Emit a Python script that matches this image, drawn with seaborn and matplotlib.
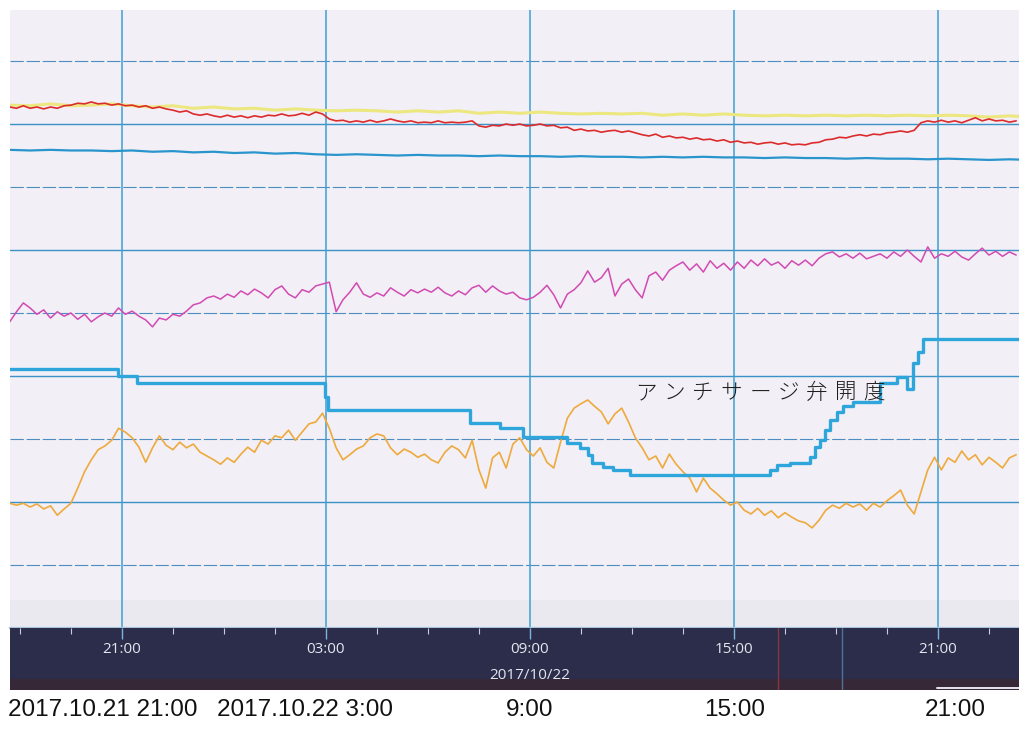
import numpy as np
import pandas as pd
import matplotlib
matplotlib.use("Agg")
import matplotlib.pyplot as plt
import matplotlib.transforms as mtransforms
from matplotlib import font_manager as fm
import seaborn as sns

sns.set_style("white")
plt.rcParams["font.family"] = ["Noto Sans CJK JP", "DejaVu Sans"]

# ---------------------------------------------------------------- data
# fine trend samples, one every 12 minutes (0-100 % of recorder span)
fine_times = pd.date_range("2017-10-21 17:42", periods=149, freq="12min")

red_pen = [
    82.7, 82.5, 82.9, 82.5, 82.7, 82.4, 82.7, 82.5, 82.9, 83.0,
    83.3, 83.2, 83.5, 83.2, 83.3, 83.0, 83.2, 82.9, 83.0, 82.7,
    82.9, 82.5, 82.7, 82.4, 82.2, 81.9, 82.1, 81.6, 81.4, 81.6,
    81.3, 81.1, 81.4, 81.1, 81.3, 81.0, 81.3, 81.1, 81.4, 81.3,
    81.6, 81.3, 81.4, 81.7, 81.4, 81.9, 81.6, 80.8, 80.5, 80.6,
    80.3, 80.5, 80.3, 80.6, 80.3, 80.5, 80.8, 80.5, 80.3, 80.5,
    80.2, 80.3, 80.2, 80.5, 80.2, 80.3, 80.2, 80.3, 80.5, 79.7,
    79.5, 79.8, 79.7, 80.0, 79.8, 80.0, 79.7, 79.8, 80.0, 79.7,
    79.8, 79.4, 79.5, 79.0, 79.2, 78.9, 79.0, 78.7, 78.9, 79.0,
    78.7, 78.9, 78.6, 78.3, 78.1, 78.4, 77.9, 78.1, 77.8, 77.9,
    77.6, 77.8, 77.5, 77.6, 77.3, 77.5, 77.1, 77.3, 77.0, 77.1,
    76.8, 77.0, 77.1, 76.8, 77.0, 76.7, 76.8, 76.7, 77.0, 77.1,
    77.5, 77.6, 77.9, 77.8, 78.1, 78.3, 78.1, 78.4, 78.3, 78.6,
    78.7, 78.9, 78.7, 79.0, 80.2, 80.5, 80.3, 80.6, 80.3, 80.5,
    80.2, 80.6, 81.0, 80.5, 80.8, 80.5, 80.6, 80.3, 80.5,
]

magenta_pen = [
    48.6, 50.2, 51.6, 50.8, 49.8, 50.5, 49.2, 50.2, 49.5, 50.0,
    49.0, 49.8, 48.6, 49.4, 50.0, 49.5, 50.8, 49.8, 50.3, 49.5,
    48.9, 47.8, 49.2, 48.9, 49.8, 49.5, 50.3, 51.3, 51.6, 52.4,
    52.7, 52.2, 53.0, 52.5, 53.5, 52.9, 53.8, 53.2, 52.4, 53.7,
    54.3, 53.0, 52.4, 53.7, 53.3, 54.3, 54.6, 54.9, 50.2, 52.1,
    53.3, 54.8, 53.0, 52.5, 53.2, 52.7, 54.0, 53.3, 52.7, 53.7,
    53.2, 53.8, 53.3, 54.1, 53.2, 52.7, 53.5, 52.9, 54.0, 54.4,
    53.3, 54.3, 53.5, 53.0, 53.3, 52.4, 52.1, 52.5, 53.3, 54.4,
    52.9, 50.8, 53.0, 53.7, 54.8, 56.7, 54.9, 55.6, 57.1, 52.7,
    54.6, 55.4, 53.7, 52.4, 55.9, 56.5, 55.2, 56.8, 57.5, 58.1,
    56.8, 57.8, 56.5, 58.3, 57.1, 57.9, 56.8, 58.1, 57.1, 58.4,
    57.5, 58.6, 57.6, 58.1, 57.1, 58.3, 57.6, 58.4, 57.5, 58.7,
    59.4, 59.7, 58.9, 59.4, 58.7, 59.5, 58.6, 59.0, 59.4, 58.7,
    59.7, 59.0, 60.0, 59.0, 58.1, 60.5, 58.7, 59.4, 59.0, 59.8,
    58.9, 58.4, 59.4, 60.3, 59.2, 59.8, 59.0, 59.7, 59.2,
]

orange_pen = [
    19.8, 19.5, 19.8, 19.2, 19.7, 18.9, 19.4, 17.9, 18.9, 19.8,
    22.2, 24.8, 26.7, 28.3, 28.9, 29.8, 31.7, 31.1, 30.2, 28.7,
    26.3, 28.6, 30.5, 29.0, 28.3, 29.5, 28.6, 29.2, 27.9, 27.3,
    26.7, 26.0, 27.0, 26.3, 27.6, 28.7, 27.9, 29.8, 29.2, 30.5,
    30.2, 31.4, 29.8, 31.1, 32.4, 32.7, 34.1, 31.7, 28.6, 26.7,
    27.5, 28.4, 28.9, 30.2, 30.8, 30.5, 28.6, 27.5, 28.4, 27.9,
    27.1, 27.6, 26.7, 26.2, 27.9, 28.9, 28.3, 27.0, 29.8, 25.1,
    22.2, 27.0, 27.9, 25.4, 29.2, 30.2, 28.3, 27.3, 28.6, 26.3,
    25.4, 29.5, 33.3, 34.9, 35.6, 36.2, 35.2, 34.3, 32.4, 34.0,
    34.9, 32.7, 30.2, 28.6, 26.7, 27.3, 25.4, 27.6, 26.0, 24.8,
    23.8, 21.6, 23.8, 22.2, 21.3, 20.3, 19.5, 20.0, 18.7, 18.1,
    19.0, 17.9, 18.6, 17.5, 18.3, 17.6, 17.0, 16.7, 15.9, 17.1,
    18.7, 19.5, 19.0, 19.8, 19.2, 19.7, 18.7, 19.8, 19.2, 20.2,
    21.0, 21.9, 19.5, 18.1, 21.6, 25.1, 27.1, 25.1, 27.0, 26.3,
    28.1, 26.7, 27.5, 25.9, 27.1, 26.3, 25.4, 27.0, 27.5,
]

# slow pens, one sample every 36 minutes
coarse_times = pd.date_range("2017-10-21 17:42", periods=51, freq="36min")

yellow_pen = [
    83.0, 82.9, 83.2, 82.9, 83.0, 83.2, 82.9, 82.7, 82.9, 82.5,
    82.7, 82.4, 82.5, 82.2, 82.4, 82.2, 82.1, 82.2, 82.1, 81.9,
    82.1, 81.9, 82.1, 81.7, 81.9, 81.7, 81.9, 81.7, 81.6, 81.7,
    81.6, 81.7, 81.4, 81.6, 81.4, 81.6, 81.4, 81.3, 81.4, 81.3,
    81.4, 81.3, 81.4, 81.3, 81.4, 81.3, 81.4, 81.3, 81.1, 81.3,
    81.1,
]

blue_pen = [
    75.9, 75.8, 75.9, 75.8, 75.8, 75.7, 75.8, 75.6, 75.7, 75.5,
    75.6, 75.4, 75.5, 75.3, 75.4, 75.2, 75.1, 75.2, 75.1, 75.0,
    75.1, 75.0, 75.0, 74.9, 75.0, 74.9, 74.9, 74.8, 74.9, 74.8,
    74.8, 74.7, 74.8, 74.7, 74.8, 74.7, 74.7, 74.6, 74.7, 74.6,
    74.6, 74.5, 74.6, 74.5, 74.5, 74.4, 74.5, 74.4, 74.3, 74.4,
    74.3,
]

# anti-surge valve opening: each value holds until the next change
valve_times = [
    "2017-10-21 17:40", "2017-10-21 20:53", "2017-10-21 21:26",
    "2017-10-22 02:58", "2017-10-22 03:04", "2017-10-22 07:14",
    "2017-10-22 08:07", "2017-10-22 08:47", "2017-10-22 10:05",
    "2017-10-22 10:28", "2017-10-22 10:43", "2017-10-22 10:49",
    "2017-10-22 11:09", "2017-10-22 11:26", "2017-10-22 11:56",
    "2017-10-22 16:04", "2017-10-22 16:16", "2017-10-22 16:39",
    "2017-10-22 17:14", "2017-10-22 17:23", "2017-10-22 17:32",
    "2017-10-22 17:41", "2017-10-22 17:49", "2017-10-22 18:02",
    "2017-10-22 18:13", "2017-10-22 18:30", "2017-10-22 19:17",
    "2017-10-22 19:47", "2017-10-22 20:05", "2017-10-22 20:16",
    "2017-10-22 20:25", "2017-10-22 20:34", "2017-10-22 23:30",
]
valve_opening = [
    41.1, 40.0, 38.9, 36.7, 34.6, 32.5, 31.7, 30.3, 29.4, 28.6,
    27.5, 26.2, 25.6, 25.1, 24.3, 25.1, 25.9, 26.2, 27.1, 28.7,
    29.8, 31.4, 33.0, 34.3, 35.2, 35.9, 38.9, 39.8, 37.9, 42.1,
    43.8, 45.9, 45.9,
]
valve_label = "アンチサージ弁開度"

# time axis
view_start = "2017-10-21 17:42:30"
view_end = "2017-10-22 23:23"
tick_times = ["2017-10-21 21:00", "2017-10-22 03:00", "2017-10-22 09:00",
              "2017-10-22 15:00", "2017-10-22 21:00"]
tick_labels = ["21:00", "03:00", "09:00", "15:00", "21:00"]
date_label = "2017/10/22"
date_label_time = "2017-10-22 09:00"
cursor_times = ["2017-10-22 16:17", "2017-10-22 18:11"]
caption_labels = ["2017.10.21 21:00", "2017.10.22 3:00", "9:00", "15:00", "21:00"]

# ---------------------------------------------------------------- figure
W, H = 1019, 733
fig = plt.figure(figsize=(W / 100, H / 100), dpi=100)
fig.patch.set_facecolor("white")

ax = fig.add_axes([10 / W, 105 / H, 1009 / W, 618 / H])
band = fig.add_axes([10 / W, 43 / H, 1009 / W, 62 / H], sharex=ax)

t0 = pd.Timestamp(view_start).to_pydatetime()
t1 = pd.Timestamp(view_end).to_pydatetime()

ax.set_facecolor("#f2eff6")
ax.axhspan(0, 4.4, color="#ebe9f0", zorder=0, lw=0)

fine = pd.DataFrame({"time": fine_times, "red": red_pen,
                     "magenta": magenta_pen, "orange": orange_pen})
coarse = pd.DataFrame({"time": coarse_times, "yellow": yellow_pen,
                       "blue": blue_pen})
valve = pd.DataFrame({"time": pd.to_datetime(valve_times),
                      "opening": valve_opening})

sns.lineplot(data=coarse, x="time", y="yellow", ax=ax, color="#ece77e",
             lw=2.2, errorbar=None, zorder=3)
sns.lineplot(data=fine, x="time", y="red", ax=ax, color="#dc2b2b",
             lw=1.2, errorbar=None, zorder=4)
sns.lineplot(data=coarse, x="time", y="blue", ax=ax, color="#2a95cc",
             lw=1.6, errorbar=None, zorder=3)
sns.lineplot(data=fine, x="time", y="magenta", ax=ax, color="#d24ab2",
             lw=1.1, errorbar=None, zorder=3)
sns.lineplot(data=fine, x="time", y="orange", ax=ax, color="#eeaa3c",
             lw=1.2, errorbar=None, zorder=3)
sns.lineplot(data=valve, x="time", y="opening", ax=ax, color="#2fa6db",
             lw=2.4, errorbar=None, drawstyle="steps-post", zorder=5)

ax.set_xlim(t0, t1)
ax.set_ylim(0, 98.1)
ax.set_xlabel("")
ax.set_ylabel("")

# recorder grid: solid every second division, dashed in between
ax.set_yticks([20, 40, 60, 80])
ax.set_yticks([10, 30, 50, 70, 90], minor=True)
ax.grid(which="major", axis="y", color="#3a92c6", lw=1.0, zorder=1)
ax.grid(which="minor", axis="y", color="#4c8dc2", lw=0.8,
        linestyle=(0, (12, 2.5)), zorder=1)
for t in tick_times:
    ax.axvline(pd.Timestamp(t).to_pydatetime(), color="#3d9fd3", lw=1.1,
               zorder=2)
ax.tick_params(axis="both", which="both", length=0, labelbottom=False,
               labelleft=False)
ax.set_axisbelow(True)
for side in ["top", "left", "right"]:
    ax.spines[side].set_visible(False)
ax.spines["bottom"].set_color("#a8c3dc")
ax.spines["bottom"].set_linewidth(1.6)

# label for the valve pen, spaced out like the recorder's print
lab_tr = mtransforms.blended_transform_factory(ax.transAxes, ax.transData)
for k, ch in enumerate(valve_label):
    ax.text(0.6303 + k * 0.02825, 37.3, ch, transform=lab_tr, ha="center",
            va="center", fontsize=15.5, color="#1e1e1e",
            family=["Noto Sans CJK JP", "DejaVu Sans"], fontweight="light",
            zorder=6)

# ---------------------------------------------------------------- time band
band.set_facecolor("#2b2d4b")
band.set_ylim(0, 1)
band.axhspan(0, 0.17, color="#372838", lw=0)
for side in band.spines.values():
    side.set_visible(False)
band.set_xticks([pd.Timestamp(t).to_pydatetime() for t in tick_times])
minor_ticks = pd.date_range("2017-10-21 18:00", "2017-10-22 23:00", freq="90min")
band.set_xticks([t.to_pydatetime() for t in minor_ticks], minor=True)
band.tick_params(axis="x", which="major", direction="in", top=True,
                 bottom=False, length=8, width=1.0, color="#7ab6dc",
                 labelbottom=False, labeltop=False)
band.tick_params(axis="x", which="minor", direction="in", top=True,
                 bottom=False, length=4, width=0.8, color="#c8cde0")
band.tick_params(axis="y", left=False, labelleft=False)

for t, c in zip(cursor_times, ["#8a3440", "#4f7398"]):
    band.axvline(pd.Timestamp(t).to_pydatetime(), color=c, lw=1.0)
band.axhline(0.04, xmin=0.919, xmax=1.0, color="#e6e6f0", lw=1.4)

band_tr = mtransforms.blended_transform_factory(band.transData, band.transAxes)
for t, lab in zip(tick_times, tick_labels):
    band.text(pd.Timestamp(t).to_pydatetime(), 0.66, lab, transform=band_tr,
              ha="center", va="center", fontsize=11, color="#e4e5ee",
              family="Open Sans")
band.text(pd.Timestamp(date_label_time).to_pydatetime(), 0.24, date_label,
          transform=band_tr, ha="center", va="center", fontsize=11,
          color="#e4e5ee", family="Open Sans")

# ---------------------------------------------------------------- captions
names = {f.name for f in fm.fontManager.ttflist}
cap_family = "Liberation Sans Narrow" if "Liberation Sans Narrow" in names else "Liberation Sans"
cap_size = 21 if cap_family == "Liberation Sans Narrow" else 17.5
for xf, lab in zip([0.101, 0.299, 0.520, 0.721, 0.937], caption_labels):
    fig.text(xf, 0.031, lab, ha="center", va="center", fontsize=cap_size,
             color="#111111", family=cap_family)

fig.savefig("out.png", dpi=100)
